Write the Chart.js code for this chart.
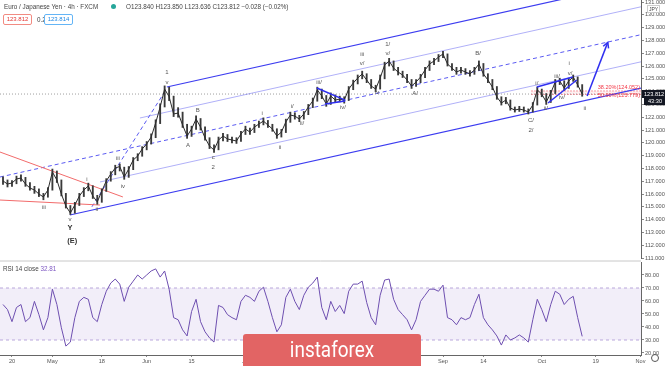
<!DOCTYPE html>
<html>
<head>
<meta charset="utf-8">
<script src="https://cdn.jsdelivr.net/npm/chart.js@4.4.0/dist/chart.umd.min.js"></script>
<style>
html, body { margin: 0; padding: 0; background: #fff; width: 665px; height: 366px; overflow: hidden; }
#wrap { position: relative; width: 665px; height: 366px; font-family: 'Liberation Sans', Arial, sans-serif; }
canvas { position: absolute; left: 0; }
#main { top: 0; }
#rsi { top: 260px; }
.hdr { position: absolute; font-size: 6.3px; color: #444; white-space: nowrap; }
.box { position: absolute; width: 27px; height: 9px; border: 1px solid; border-radius: 2px; font-size: 6px; line-height: 9px; text-align: center; background: #fff; }
#logo { position: absolute; left: 243px; top: 334px; width: 178px; height: 32px; background: #e26464; border-radius: 3px 3px 0 0; color: #fff; font-family: Roboto, sans-serif; font-size: 22px; line-height: 32px; text-align: center; }
#logo span { display: inline-block; transform: scaleX(0.86); }
#gear { position: absolute; left: 651px; top: 354px; width: 6px; height: 6px; border: 1.5px solid #555; border-radius: 50%; }
</style>
</head>
<body>
<div id="wrap">
  <canvas id="main" width="665" height="260"></canvas>
  <canvas id="rsi" width="665" height="106"></canvas>
  <div class="hdr" style="left:4px;top:3px;">Euro / Japanese Yen · 4h · FXCM</div>
  <div style="position:absolute;left:111px;top:4px;width:5px;height:5px;border-radius:50%;background:#26a69a;"></div>
  <div class="hdr" style="left:126px;top:3px;">O123.840 H123.850 L123.636 C123.812 −0.028 (−0.02%)</div>
  <div class="box" style="left:3px;top:14px;border-color:#f28b82;color:#e53935;">123.812</div>
  <div class="hdr" style="left:37px;top:16px;">0.2</div>
  <div class="box" style="left:44px;top:14px;border-color:#64b5f6;color:#1e88e5;">123.814</div>
  <div class="hdr" style="left:3px;top:265px;">RSI 14 close <span style="color:#7e57c2;">32.81</span></div>
  <div class="hdr" style="left:647px;top:5px;font-size:5px;border:1px solid #ccc;padding:0 1px;">JPY</div>
  <div id="logo"><span>instaforex</span></div>
  <div id="gear"></div>
</div>
<script>
'use strict';

// one bar per trading day, 16 Apr 2020 .. 14 Oct 2020 (day index 0..129)
var closes = [
  117.02, 116.78, 116.86, 117.17, 117.25, 116.78, 116.47, 116.31, 116.00, 115.77,
  116.31, 117.72, 117.09, 116.00, 115.06, 114.52, 115.14, 115.84, 116.31, 116.63,
  115.84, 115.38, 116.23, 117.02, 117.56, 118.03, 118.15, 117.33, 117.95, 118.66,
  118.97, 119.52, 119.91, 120.45, 121.55, 122.80, 124.20, 123.60, 122.25, 122.33,
  121.39, 120.53, 121.08, 121.86, 121.23, 120.38, 119.75, 119.44, 120.22, 120.53,
  120.30, 120.22, 120.14, 120.69, 121.08, 120.84, 121.23, 121.47, 121.70, 121.39,
  121.08, 120.53, 120.84, 121.63, 122.17, 122.09, 121.86, 122.25, 122.80, 123.27,
  124.13, 123.66, 123.03, 123.66, 123.34, 123.42, 123.34, 124.20, 124.67, 125.06,
  125.38, 124.91, 124.44, 124.20, 125.06, 126.08, 126.39, 125.84, 125.53, 125.30,
  124.91, 124.44, 124.75, 125.14, 125.69, 126.16, 126.39, 126.70, 126.94, 126.16,
  125.84, 125.53, 125.69, 125.53, 125.38, 125.69, 126.16, 125.38, 124.91, 124.36,
  123.58, 123.11, 123.34, 122.72, 122.56, 122.64, 122.56, 122.41, 122.95, 124.13,
  123.81, 123.19, 123.89, 124.75, 124.83, 124.28, 124.83, 125.14, 124.52, 123.812
];

var highs = [
  117.35, 117.10, 117.05, 117.40, 117.50, 117.30, 116.90, 116.60, 116.40, 116.05,
  116.50, 117.95, 117.80, 117.10, 116.05, 115.10, 115.35, 116.05, 116.50, 116.85,
  116.65, 115.90, 116.40, 117.20, 117.75, 118.25, 118.35, 118.10, 118.15, 118.85,
  119.15, 119.70, 120.10, 120.70, 121.80, 123.05, 124.45, 124.35, 123.65, 122.75,
  122.40, 121.45, 121.30, 122.10, 121.90, 121.25, 120.40, 119.85, 120.45, 120.75,
  120.65, 120.45, 120.40, 120.90, 121.30, 121.15, 121.45, 121.70, 121.95, 121.75,
  121.45, 121.10, 121.05, 121.85, 122.40, 122.35, 122.15, 122.45, 123.00, 123.50,
  124.35, 124.20, 123.70, 123.90, 123.75, 123.65, 123.60, 124.40, 124.90, 125.30,
  125.60, 125.40, 124.95, 124.50, 125.30, 126.30, 126.60, 126.40, 125.90, 125.60,
  125.35, 124.95, 124.95, 125.35, 125.90, 126.40, 126.60, 126.90, 127.15, 126.95,
  126.20, 125.90, 125.90, 125.80, 125.65, 125.90, 126.40, 126.20, 125.40, 124.95,
  124.40, 123.60, 123.55, 123.35, 122.80, 122.85, 122.80, 122.65, 123.15, 124.35,
  124.20, 123.85, 124.10, 124.95, 125.05, 124.85, 125.05, 125.30, 125.15, 124.55
];

var lows = [
  116.75, 116.55, 116.60, 116.80, 117.00, 116.60, 116.30, 116.05, 115.80, 115.55,
  115.75, 116.30, 116.90, 115.85, 114.90, 114.40, 114.50, 115.10, 115.80, 116.25,
  115.65, 115.20, 115.35, 116.20, 117.00, 117.50, 117.80, 117.15, 117.30, 117.90,
  118.60, 118.95, 119.45, 119.90, 120.40, 121.50, 122.80, 123.30, 122.05, 122.00,
  121.20, 120.35, 120.50, 121.05, 121.00, 120.20, 119.55, 119.25, 119.45, 120.15,
  120.10, 120.00, 119.95, 120.10, 120.65, 120.65, 120.80, 121.20, 121.40, 121.20,
  120.90, 120.35, 120.45, 120.80, 121.60, 121.85, 121.65, 121.85, 122.20, 122.75,
  123.25, 123.45, 122.85, 123.00, 123.15, 123.20, 123.10, 123.30, 124.15, 124.60,
  125.00, 124.70, 124.25, 124.00, 124.20, 125.00, 126.00, 125.65, 125.30, 125.10,
  124.70, 124.25, 124.40, 124.70, 125.10, 125.65, 126.10, 126.35, 126.65, 126.00,
  125.65, 125.35, 125.45, 125.35, 125.20, 125.35, 125.65, 125.20, 124.70, 124.15,
  123.40, 122.95, 123.05, 122.55, 122.40, 122.45, 122.40, 122.25, 122.40, 122.95,
  123.60, 123.00, 123.15, 123.85, 124.55, 124.10, 124.25, 124.80, 124.35, 123.64
];

var rsiValues = [
  57.3, 53.4, 44.1, 55.0, 57.3, 44.1, 47.2, 59.7, 49.5, 37.8,
  47.2, 69.1, 57.3, 39.4, 25.3, 28.4, 47.2, 59.7, 62.8, 61.3,
  47.2, 44.1, 57.3, 67.5, 73.8, 76.9, 73.0, 59.7, 70.6, 75.3,
  80.0, 76.9, 80.0, 83.1, 84.7, 78.4, 83.1, 69.1, 47.2, 45.6,
  37.8, 33.1, 51.9, 61.3, 44.1, 36.3, 31.6, 28.4, 56.6, 55.0,
  49.5, 47.2, 45.6, 59.7, 64.4, 62.8, 59.7, 67.5, 70.6, 59.7,
  47.2, 36.3, 41.7, 62.8, 69.1, 59.7, 53.4, 64.4, 70.6, 73.8,
  78.4, 55.0, 45.6, 59.7, 51.9, 56.6, 50.3, 67.5, 73.0, 73.0,
  75.3, 58.9, 47.2, 41.7, 64.4, 76.1, 76.9, 61.3, 53.4, 49.5,
  45.6, 37.8, 45.6, 59.7, 64.4, 69.1, 69.1, 67.5, 72.2, 47.2,
  45.6, 41.7, 47.2, 45.6, 47.2, 57.3, 65.2, 47.2, 41.7, 37.8,
  33.1, 26.1, 33.9, 30.0, 31.6, 33.9, 31.6, 28.4, 45.6, 61.3,
  53.4, 44.1, 57.3, 67.5, 65.2, 57.3, 61.3, 63.6, 47.2, 32.81
];

var tickDays = [2, 11, 22, 32, 42, 54, 62, 77, 87, 98, 107, 120, 132, 142];
var tickLabels = ['20', 'May', '18', 'Jun', '15', 'Jul', '13', 'Aug', '17', 'Sep', '14', 'Oct', '19', 'Nov'];
var priceTicks = [111, 112, 113, 114, 115, 116, 117, 118, 119, 120, 121, 122, 123, 124, 125, 126, 127, 128, 129, 130, 131];
var rsiTicks = [20, 30, 40, 50, 60, 70, 80];

// drawings: [fromDay, fromPrice, toDay, toPrice]
var channelSolid = [[36.5, 124.36, 142.1, 132.59], [14.9, 114.36, 142.1, 124.27]];
var channelFaint = [[30.5, 121.94, 142.1, 130.63], [21.6, 116.94, 142.1, 126.33]];
var channelDashed = [[-0.67, 117.33, 142.1, 128.45], [19.8, 115.0, 36.3, 124.15]];
var patternLines = [
  [69.9, 124.28, 76.2, 123.34], [71.7, 123.03, 76.2, 123.27],
  [118.9, 124.36, 126.9, 125.14], [121.4, 123.11, 127.8, 124.91]
];
var redLines = [[-0.67, 119.28, 26.7, 115.77], [-0.67, 115.53, 21.6, 115.14]];
var arrowLine = [130.1, 123.66, 134.7, 127.85];
var fibLevels = [124.052, 123.779];
var fibLabels = ['38.20%(124.052)', '50.00%(123.779)'];

// wave labels: [day, price, text]
var waveLabels = [
  [9.1, 114.98, 'iii'], [18.7, 117.17, 'i'], [20.9, 114.83, 'ii'], [25.6, 118.81, 'iii'],
  [26.7, 116.63, 'iv'], [14.9, 114.05, 'v'], [36.5, 125.53, '1'], [36.5, 124.75, 'v'],
  [43.4, 122.56, 'B'], [41.2, 119.83, 'A'], [46.8, 118.89, 'c'], [46.8, 118.11, '2'],
  [57.7, 122.33, 'i'], [61.7, 119.67, 'ii'], [64.4, 122.88, 'i/'], [66.6, 121.55, 'ii/'],
  [70.4, 124.75, 'iii/'], [75.7, 122.80, 'iv/'], [80.0, 126.94, 'iii'], [80.0, 126.23, 'v/'],
  [83.3, 123.97, 'iv'], [85.7, 127.72, '1/'], [85.7, 127.02, 'v/'], [91.8, 123.89, 'A/'],
  [105.8, 127.02, 'B/'], [117.6, 121.78, 'C/'], [117.6, 121.0, '2/'], [118.9, 124.67, 'i/'],
  [120.9, 122.72, 'ii/'], [123.4, 125.22, 'iii/'], [124.5, 123.58, 'iv/'], [126.1, 126.23, 'i'],
  [126.3, 125.45, 'v/'], [129.6, 122.72, 'ii']
];
var bigLabels = [[14.9, 113.34, 'Y'], [15.4, 112.33, '(E)']];

var dayMin = -0.67;
var dayMax = 142.1;
var axisFont = { family: "'Liberation Sans', Arial, sans-serif", size: 5.6 };

function seg(ctx, xs, ys, l) {
  ctx.beginPath();
  ctx.moveTo(xs.getPixelForValue(l[0]), ys.getPixelForValue(l[1]));
  ctx.lineTo(xs.getPixelForValue(l[2]), ys.getPixelForValue(l[3]));
  ctx.stroke();
}

var mainOverlay = {
  id: 'mainOverlay',
  beforeDatasetsDraw: function(chart) {
    var ctx = chart.ctx, xs = chart.scales.x, ys = chart.scales.y, a = chart.chartArea;
    ctx.save();
    ctx.beginPath();
    ctx.rect(a.left, a.top, a.right - a.left, a.bottom - a.top);
    ctx.clip();

    // fib zone
    var f0 = ys.getPixelForValue(fibLevels[0]), f1 = ys.getPixelForValue(fibLevels[1]);
    var fx = xs.getPixelForValue(117.6);
    ctx.fillStyle = 'rgba(242, 54, 69, 0.08)';
    ctx.fillRect(fx, f0, a.right - fx, f1 - f0);
    ctx.strokeStyle = 'rgba(242, 54, 69, 0.6)';
    ctx.lineWidth = 0.8;
    ctx.setLineDash([2, 1]);
    fibLevels.forEach(function(v) {
      var y = ys.getPixelForValue(v);
      ctx.beginPath(); ctx.moveTo(fx, y); ctx.lineTo(a.right, y); ctx.stroke();
    });

    // last price line
    var py = ys.getPixelForValue(closes[closes.length - 1]);
    ctx.strokeStyle = '#888';
    ctx.setLineDash([1, 2]);
    ctx.beginPath(); ctx.moveTo(a.left, py); ctx.lineTo(a.right, py); ctx.stroke();

    ctx.setLineDash([]);
    ctx.strokeStyle = '#3c3cf0';
    ctx.lineWidth = 1.2;
    channelSolid.forEach(function(l) { seg(ctx, xs, ys, l); });
    ctx.strokeStyle = 'rgba(80, 80, 240, 0.45)';
    ctx.lineWidth = 1;
    channelFaint.forEach(function(l) { seg(ctx, xs, ys, l); });
    ctx.strokeStyle = '#5a5af2';
    ctx.setLineDash([4, 3]);
    channelDashed.forEach(function(l) { seg(ctx, xs, ys, l); });
    ctx.setLineDash([]);
    ctx.strokeStyle = '#f26b6b';
    redLines.forEach(function(l) { seg(ctx, xs, ys, l); });
    ctx.restore();
  },
  afterDatasetsDraw: function(chart) {
    var ctx = chart.ctx, xs = chart.scales.x, ys = chart.scales.y;
    ctx.save();
    ctx.strokeStyle = '#2f2ff0';
    ctx.lineWidth = 1.5;
    patternLines.forEach(function(l) { seg(ctx, xs, ys, l); });

    // arrow
    var x1 = xs.getPixelForValue(arrowLine[0]), y1 = ys.getPixelForValue(arrowLine[1]);
    var x2 = xs.getPixelForValue(arrowLine[2]), y2 = ys.getPixelForValue(arrowLine[3]);
    seg(ctx, xs, ys, arrowLine);
    var ang = Math.atan2(y2 - y1, x2 - x1);
    ctx.beginPath();
    ctx.moveTo(x2 - 6 * Math.cos(ang - 0.5), y2 - 6 * Math.sin(ang - 0.5));
    ctx.lineTo(x2, y2);
    ctx.lineTo(x2 - 6 * Math.cos(ang + 0.5), y2 - 6 * Math.sin(ang + 0.5));
    ctx.stroke();

    // fib texts
    ctx.fillStyle = '#f23645';
    ctx.font = "5.5px 'Liberation Sans', Arial, sans-serif";
    ctx.textAlign = 'right';
    ctx.textBaseline = 'middle';
    ctx.fillText(fibLabels[0], 640, ys.getPixelForValue(fibLevels[0]) - 3);
    ctx.fillText(fibLabels[1], 640, ys.getPixelForValue(fibLevels[1]) + 1);

    // wave labels
    ctx.textAlign = 'center';
    ctx.fillStyle = '#555';
    ctx.font = "6px 'Liberation Sans', Arial, sans-serif";
    waveLabels.forEach(function(w) {
      ctx.fillText(w[2], xs.getPixelForValue(w[0]), ys.getPixelForValue(w[1]));
    });
    ctx.fillStyle = '#333';
    ctx.font = "bold 7.5px 'Liberation Sans', Arial, sans-serif";
    bigLabels.forEach(function(w) {
      ctx.fillText(w[2], xs.getPixelForValue(w[0]), ys.getPixelForValue(w[1]));
    });
    ctx.restore();
  },
  afterDraw: function(chart) {
    var ctx = chart.ctx, ys = chart.scales.y, a = chart.chartArea;
    var py = Math.round(ys.getPixelForValue(closes[closes.length - 1]));
    ctx.save();
    ctx.fillStyle = '#131722';
    ctx.fillRect(a.right + 1, py - 4, 23, 8);
    ctx.fillRect(a.right + 3, py + 4, 21, 7);
    ctx.fillStyle = '#fff';
    ctx.font = "5.6px 'Liberation Sans', Arial, sans-serif";
    ctx.textAlign = 'left';
    ctx.textBaseline = 'middle';
    ctx.fillText(closes[closes.length - 1].toFixed(3), a.right + 3, py);
    ctx.fillText('43:30', a.right + 7, py + 7.5);
    ctx.restore();
  }
};

var rsiOverlay = {
  id: 'rsiOverlay',
  beforeDatasetsDraw: function(chart) {
    var ctx = chart.ctx, ys = chart.scales.y, a = chart.chartArea;
    var y70 = ys.getPixelForValue(70), y30 = ys.getPixelForValue(30);
    ctx.save();
    ctx.fillStyle = 'rgba(126, 87, 194, 0.1)';
    ctx.fillRect(a.left, y70, a.right - a.left, y30 - y70);
    ctx.strokeStyle = '#b9a8db';
    ctx.lineWidth = 1;
    ctx.setLineDash([3, 3]);
    [y70, y30].forEach(function(y) {
      ctx.beginPath(); ctx.moveTo(a.left, y); ctx.lineTo(a.right, y); ctx.stroke();
    });
    ctx.setLineDash([]);
    ctx.strokeStyle = '#c8c8c8';
    ctx.beginPath(); ctx.moveTo(0, 1); ctx.lineTo(a.right, 1); ctx.stroke();
    ctx.restore();
  }
};

function fixY(s) {
  s.width = 24;
  s.paddingTop = 0;
  s.paddingBottom = 0;
}

new Chart(document.getElementById('main'), {
  type: 'bar',
  data: {
    datasets: [{
      type: 'line',
      data: closes.map(function(c, i) { return { x: i, y: c }; }),
      borderColor: '#2b2b2b',
      borderWidth: 1,
      pointRadius: 0,
      tension: 0,
      order: 1
    }, {
      type: 'bar',
      data: closes.map(function(c, i) { return { x: i, y: [lows[i], highs[i]] }; }),
      backgroundColor: '#3a3a3a',
      barThickness: 1.2,
      order: 2
    }]
  },
  options: {
    responsive: false,
    animation: false,
    devicePixelRatio: 1,
    events: [],
    layout: { padding: { top: 0, bottom: 2, left: 0, right: 0 } },
    plugins: { legend: { display: false }, tooltip: { enabled: false } },
    scales: {
      x: { type: 'linear', min: dayMin, max: dayMax, offset: false, display: false },
      y: {
        position: 'right',
        min: 111.0,
        max: 131.16,
        afterBuildTicks: function(s) { s.ticks = priceTicks.map(function(v) { return { value: v }; }); },
        afterFit: fixY,
        ticks: { font: axisFont, color: '#555', padding: 1, callback: function(v) { return v.toFixed(3); } },
        grid: { drawOnChartArea: false, tickLength: 3, color: '#888' },
        border: { color: '#666' }
      }
    }
  },
  plugins: [mainOverlay]
});

new Chart(document.getElementById('rsi'), {
  type: 'line',
  data: {
    datasets: [{
      data: rsiValues.map(function(v, i) { return { x: i, y: v }; }),
      borderColor: '#6e4fb0',
      borderWidth: 1,
      pointRadius: 0,
      tension: 0
    }]
  },
  options: {
    responsive: false,
    animation: false,
    devicePixelRatio: 1,
    events: [],
    layout: { padding: { top: 2, bottom: 0, left: 0, right: 0 } },
    plugins: { legend: { display: false }, tooltip: { enabled: false } },
    scales: {
      x: {
        type: 'linear',
        min: dayMin,
        max: dayMax,
        afterBuildTicks: function(s) { s.ticks = tickDays.map(function(d) { return { value: d }; }); },
        afterFit: function(s) { s.height = 11; s.paddingLeft = 0; s.paddingRight = 0; },
        ticks: {
          autoSkip: false, maxRotation: 0, font: axisFont, color: '#555', padding: 1,
          callback: function(v, i) { return tickLabels[i]; }
        },
        grid: { drawOnChartArea: false, tickLength: 2, color: '#888' },
        border: { color: '#666' }
      },
      y: {
        position: 'right',
        min: 18.46,
        max: 90,
        afterBuildTicks: function(s) { s.ticks = rsiTicks.map(function(v) { return { value: v }; }); },
        afterFit: fixY,
        ticks: { font: axisFont, color: '#555', padding: 1, callback: function(v) { return v.toFixed(2); } },
        grid: { drawOnChartArea: false, tickLength: 3, color: '#888' },
        border: { color: '#666' }
      }
    }
  },
  plugins: [rsiOverlay]
});
</script>
</body>
</html>
